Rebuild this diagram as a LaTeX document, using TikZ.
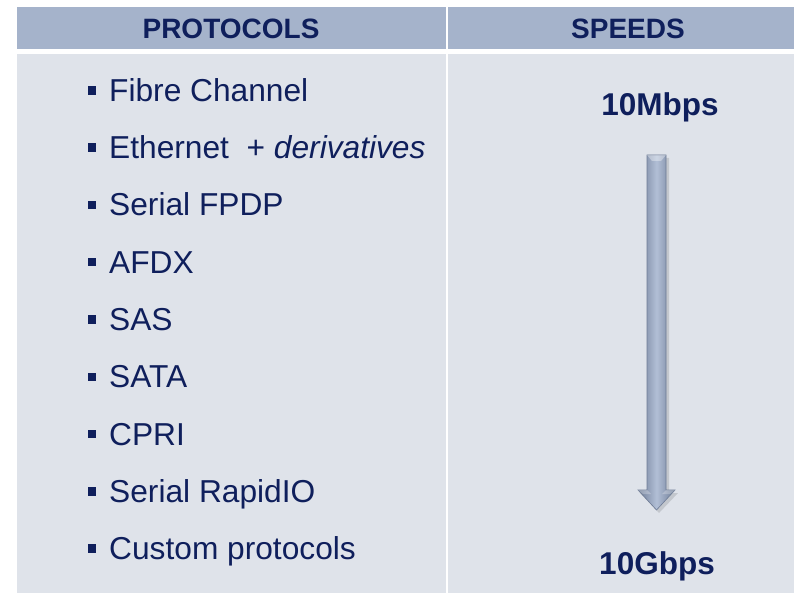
\documentclass[tikz,border=0pt]{standalone}
\usepackage{fontspec}
\setmainfont{Liberation Sans}
\usetikzlibrary{shadings}
\definecolor{headfill}{HTML}{A5B3CB}
\definecolor{bodyfill}{HTML}{DFE3EA}
\definecolor{ink}{HTML}{0F1F5C}
\definecolor{arrowlight}{HTML}{B2BFD6}
\definecolor{arrowmid}{HTML}{98A6BF}
\definecolor{arrowdark}{HTML}{6E7C96}
\tikzset{
  headtext/.style={font=\fontsize{28}{32}\selectfont\bfseries, text=ink, inner sep=0pt, anchor=base},
  itemtext/.style={font=\fontsize{31.7}{36}\selectfont, text=ink, inner sep=0pt, anchor=base west},
  speedtext/.style={font=\fontsize{31.5}{36}\selectfont\bfseries, text=ink, inner sep=0pt, anchor=base},
  bulletbox/.style={fill=ink, draw=none, minimum size=8.5pt, inner sep=0pt},
}
\begin{document}
\begin{tikzpicture}[x=1pt, y=-1pt]
  \useasboundingbox[fill=white] (0,0) rectangle (794,593);
  % table header and body cells
  \fill[headfill] (17,7) rectangle (446,49);
  \fill[headfill] (448,7) rectangle (794,49);
  \fill[bodyfill] (17,54) rectangle (446,593);
  \fill[bodyfill] (448,54) rectangle (794,593);
  % header labels
  \node[headtext] (hprot) at (231,38.5) {PROTOCOLS};
  \node[headtext] (hspeed) at (628,38.5) {SPEEDS};
  % protocol list
  \foreach \txt [count=\i from 0] in {
      Fibre Channel,
      {Ethernet\ \ + \textit{derivatives}},
      Serial FPDP,
      AFDX,
      SAS,
      SATA,
      CPRI,
      Serial RapidIO,
      Custom protocols} {
    \pgfmathsetmacro{\yb}{101.5+57.25*\i}
    \node[bulletbox] (b\i) at (92,\yb-11) {};
    \node[itemtext] (p\i) at (109,\yb) {\txt};
  }
  % speed range
  \node[speedtext] (slow) at (660,116) {10Mbps};
  \node[speedtext] (fast) at (657,574) {10Gbps};
  % shaded arrow from slow to fast
  \fill[black, opacity=0.12]
    (649,158) -- (669,158) -- (669,493) -- (678,493) -- (659,513) -- (640,493) -- (649,493) -- cycle;
  \shade[left color=arrowdark, right color=arrowdark, middle color=arrowlight, draw=arrowdark, line width=0.6pt]
    (647,155) -- (666,155) -- (666,490) -- (675,490) -- (656.5,510) -- (638,490) -- (647,490) -- cycle;
  \fill[white, opacity=0.35] (647,155) -- (666,155) -- (661,161) -- (652,161) -- cycle;
  \fill[white, opacity=0.25] (638,490) -- (647,490) -- (651,494) -- (643,494) -- cycle;
  \fill[white, opacity=0.25] (675,490) -- (666,490) -- (662,494) -- (670,494) -- cycle;
\end{tikzpicture}
\end{document}
